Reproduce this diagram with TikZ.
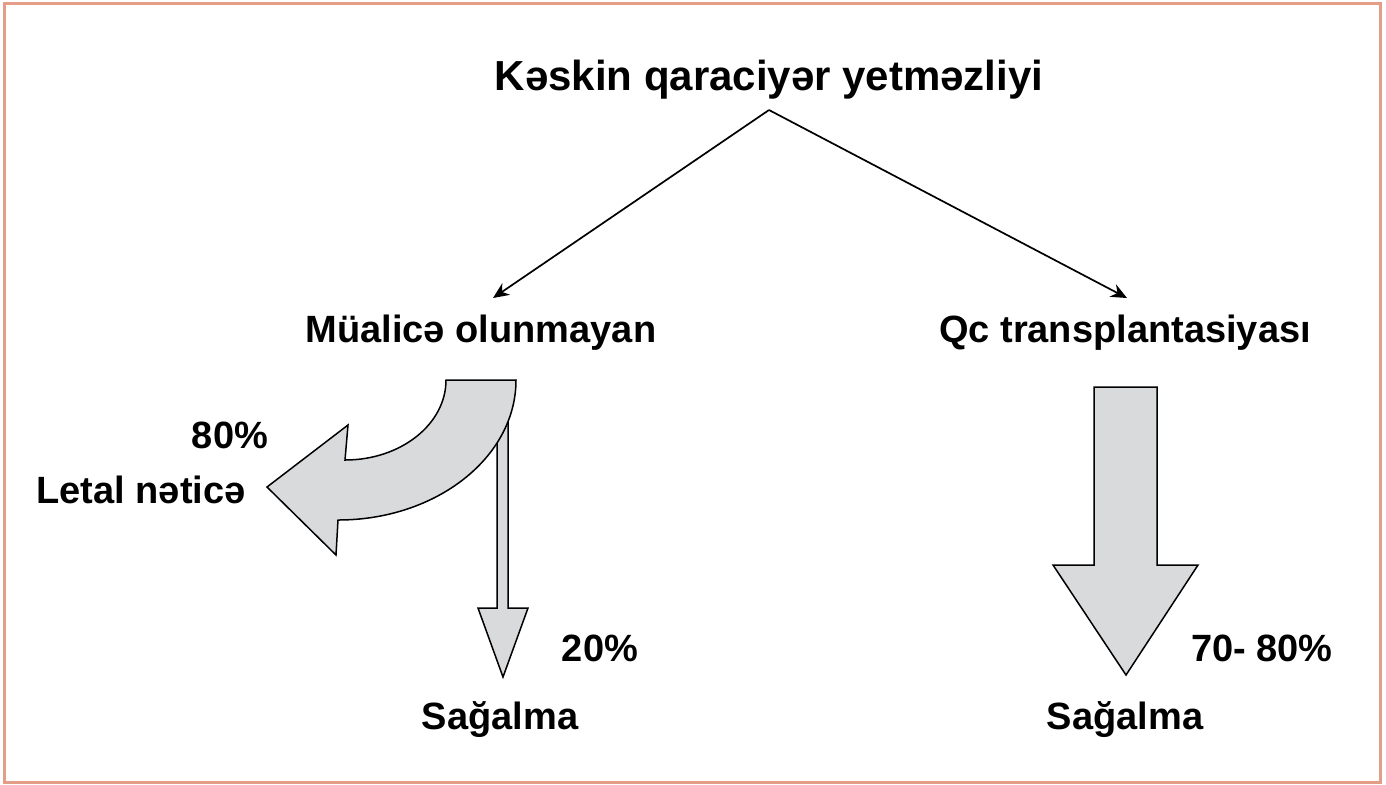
\documentclass[tikz,border=0pt]{standalone}
\usepackage{fontspec}
\setmainfont{Liberation Sans}
\usetikzlibrary{arrows.meta}
\definecolor{frame}{RGB}{228,158,136}
\definecolor{arrowfill}{RGB}{217,218,220}
\begin{document}
\begin{tikzpicture}[x=0.5pt,y=-0.5pt,
  titletext/.style={font=\bfseries\fontsize{21}{25}\selectfont, inner sep=0pt},
  lbltext/.style={font=\bfseries\fontsize{19}{23}\selectfont, inner sep=0pt},
  conn/.style={line width=0.85pt, -{Stealth[length=8pt,width=7pt]}},
  bigarrow/.style={draw=black, fill=arrowfill, line width=0.75pt, line join=miter}]
\useasboundingbox (0,0) rectangle (1386,784);
\draw[frame, line width=1.5pt] (4.5,3.7) rectangle (1380.5,782.5);

\node[titletext] (top) at (769,80) {Kəskin qaraciyər yetməzliyi};
\node[lbltext] (mua) at (481,333) {Müalicə olunmayan};
\node[lbltext] (qc) at (1125,333) {Qc transplantasiyası};
\node[lbltext] (p80) at (230,435) {80\%};
\node[lbltext] (letal) at (141,490) {Letal nəticə};
\node[lbltext] (p20) at (600,648) {20\%};
\node[lbltext] (sag1) at (500,720) {Sağalma};
\node[lbltext] (p7080) at (1262,648) {70- 80\%};
\node[lbltext] (sag2) at (1125,720) {Sağalma};

\coordinate (apex) at (769,110);
\coordinate (ltip) at (493,298);
\coordinate (rtip) at (1127,298);
\draw[conn] (apex) -- (ltip);
\draw[conn] (apex) -- (rtip);

% thin downward arrow (behind the curved arrow)
\draw[bigarrow] (497,415) -- (497,608) -- (478,608) -- (503,677) -- (528,608) -- (508,608) -- (508,415);

% curved arrow to the left
\draw[bigarrow] (446,380) -- (516,380)
  arc[start angle=0, end angle=90, x radius=178, y radius=140]
  -- (336,555) -- (267,487) -- (348,425) -- (345,460)
  arc[start angle=90, end angle=0, x radius=101, y radius=80] -- cycle;

% big right arrow
\draw[bigarrow] (1094,387) -- (1157,387) -- (1157,565) -- (1198,565) -- (1126,675) -- (1053,565) -- (1094,565) -- cycle;
\end{tikzpicture}
\end{document}
